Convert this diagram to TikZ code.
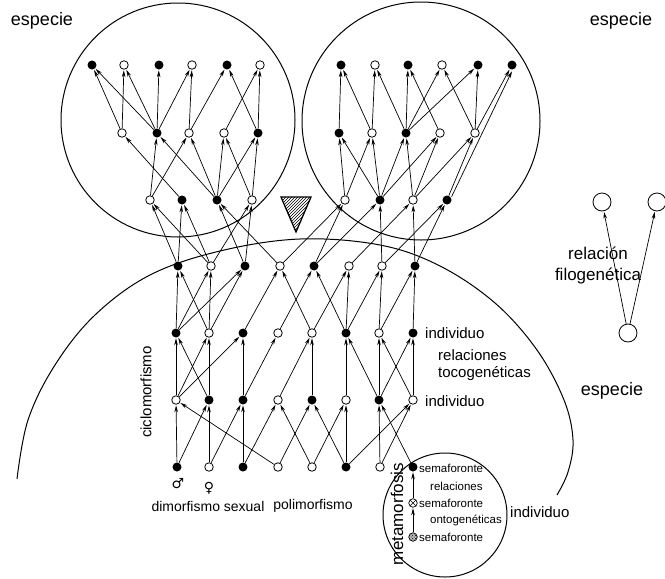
\documentclass[tikz,border=0pt]{standalone}
\usepackage{fontspec}
\setmainfont{Liberation Sans}
\newfontfamily\symfont{DejaVu Sans}
\usetikzlibrary{arrows.meta,patterns,calc}

\begin{document}
\begin{tikzpicture}[x=1pt,y=-1pt,
  full/.style={circle,fill=black,inner sep=0pt,minimum size=9pt},
  hollow/.style={circle,draw=black,fill=white,line width=0.8pt,inner sep=0pt,minimum size=8.5pt},
  bigring/.style={circle,draw=black,fill=white,line width=0.8pt,inner sep=0pt,minimum size=18pt},
  arr/.style={-{Stealth[length=7pt,width=3.6pt]},line width=0.7pt,shorten >=0.6pt},
  lbl/.style={font=\fontsize{15}{17}\selectfont,inner sep=0pt},
  biglbl/.style={font=\fontsize{18}{20}\selectfont,inner sep=0pt},
  small/.style={font=\fontsize{11.5}{13}\selectfont,inner sep=0pt},
  outline/.style={line width=1pt}
]
\useasboundingbox (0,0) rectangle (665,579);

% species boundaries
\draw[outline] (178,120) circle (117);
\draw[outline] (421,121) circle (119);
\draw[outline] plot[smooth, tension=0.6] coordinates {(17,479) (28,420) (55,365) (95,315) (150,275) (220,251) (300,239) (380,245) (440,266) (495,303) (537,350) (564,400) (573,440) (568,472) (557,495)};
% individual (metamorphosis) boundary
\draw[outline] (445,515) circle (62);

% hatched wedge
\draw[line width=1.3pt, pattern=north east lines] (281,197) -- (311,197) -- (296,232) -- cycle;

% generations of individuals
\foreach \n/\x/\s in {a1/177/full,a2/209/hollow,a3/243/full,a4/278/hollow,a5/312/hollow,a6/346/full,a7/380/hollow,a8/413/full}
  \node[\s] (\n) at (\x,467) {};
\foreach \n/\x/\s in {b1/176/hollow,b2/209/full,b3/243/full,b4/278/hollow,b5/312/full,b6/346/hollow,b7/379/full,b8/413/hollow}
  \node[\s] (\n) at (\x,400) {};
\foreach \n/\x/\s in {c1/176/full,c2/209/hollow,c3/243/full,c4/278/hollow,c5/312/hollow,c6/346/full,c7/379/hollow,c8/413/full}
  \node[\s] (\n) at (\x,333) {};
\foreach \n/\x/\s in {d1/178/full,d2/211/hollow,d3/245/full,d4/280/hollow,d5/314/full,d6/349/hollow,d7/382/hollow,d8/415/full}
  \node[\s] (\n) at (\x,266) {};
\foreach \n/\x/\s in {e1/150/hollow,e2/182/full,e3/217/full,e4/252/hollow,f1/345/hollow,f2/380/full,f3/413/hollow,f4/447/full}
  \node[\s] (\n) at (\x,200) {};
\foreach \n/\x/\s in {g1/122/hollow,g2/157/full,g3/189/hollow,g4/224/hollow,g5/258/full,h1/339/full,h2/372/hollow,h3/406/full,h4/440/hollow,h5/475/hollow}
  \node[\s] (\n) at (\x,133) {};
\foreach \n/\x/\s in {i1/92/full,i2/124/hollow,i3/159/full,i4/192/hollow,i5/227/full,i6/260/hollow,j1/341/full,j2/375/hollow,j3/408/full,j4/442/hollow,j5/478/full,j6/512/full}
  \node[\s] (\n) at (\x,65) {};

% tocogenetic relations
\foreach \u/\v in {a1/b1,a1/b2,a2/b2,a2/b3,a3/b3,a3/b4,a4/b1,a4/b5,a5/b4,a5/b6,a6/b5,a6/b6,a6/b8,a7/b7,a7/b8,a8/b7,
  b1/c1,b1/c2,b1/c3,b2/c1,b2/c2,b3/c3,b3/c4,b4/c5,b5/c5,b6/c6,b7/c6,b7/c7,b7/c8,b8/c7,b8/c8,
  c1/d1,c1/d2,c1/d3,c2/d1,c2/d2,c2/d3,c3/d4,c5/d4,c4/d5,c6/d5,c5/d6,c6/d6,c6/d7,c7/d7,c7/d8,c8/d8,
  d1/e1,d2/e1,d1/e2,d2/e2,d3/e3,d4/e3,d2/e4,d3/e4,d4/f1,d5/f1,d5/f2,d7/f2,d6/f3,d8/f3,d7/f4,d8/f4,
  e1/g2,e1/g3,e2/g1,e3/g2,e3/g3,e3/g4,e3/g5,e4/g4,e4/g5,
  g1/i1,g1/i2,g2/i1,g2/i2,g2/i3,g2/i4,g3/i4,g3/i5,g5/i5,g4/i6,g5/i6,
  f1/h1,f2/h1,f1/h2,f2/h2,f2/h3,f3/h3,f2/h4,f3/h4,f3/h5,f4/h5,
  h1/j1,h2/j1,h2/j2,h3/j2,h3/j3,h4/j3,h3/j4,h5/j4,h3/j5,h5/j5,h5/j6}
  \draw[arr] (\u) -- (\v);
\draw[arr] ($(f4)!5pt!(j6)+(2.4,1.2)$) -- ($(j6)!5pt!(f4)+(2.4,1.2)$);

% semaphoronts of one individual
\node[circle,draw,line width=0.7pt,inner sep=0pt,minimum size=8.5pt,
  path picture={\draw[line width=0.6pt] (path picture bounding box.north west) -- (path picture bounding box.south east)
  (path picture bounding box.north east) -- (path picture bounding box.south west);}] (s2) at (413,503) {};
\node[circle,draw,line width=0.7pt,inner sep=0pt,minimum size=8.5pt,fill=gray!55,
  path picture={\fill[pattern=crosshatch dots] (path picture bounding box.south west) rectangle (path picture bounding box.north east);}] (s1) at (413,537) {};
\draw[arr] (s1) -- (s2);
\draw[arr] (s2) -- (a8);

\node[small,anchor=west] (t1) at (419,468) {semaforonte};
\node[small,anchor=west] (t2) at (430,486) {relaciones};
\node[small,anchor=west] (t3) at (419,503) {semaforonte};
\node[small,anchor=west] (t4) at (430,520) {ontogenéticas};
\node[small,anchor=west] (t5) at (419,537) {semaforonte};
\node[lbl,rotate=90,font=\fontsize{17}{19}\selectfont] (meta) at (397,514) {metamorfosis};

% phylogenetic relation
\node[bigring] (p1) at (602,202) {};
\node[bigring] (p2) at (657,202) {};
\node[bigring] (p0) at (628,333) {};
\draw[arr] (p0) -- (p1);
\draw[arr] (p0) -- (p2);

% labels
\node[biglbl] (sp1) at (42,21) {especie};
\node[biglbl] (sp2) at (621,21) {especie};
\node[biglbl] (sp3) at (612,391) {especie};
\node[biglbl,align=center,font=\fontsize{17}{21}\selectfont] (rf) at (598,266) {relación\\filogenética};
\node[lbl,anchor=west] (in1) at (425,333) {individuo};
\node[lbl,anchor=west] (rt1) at (438,355) {relaciones};
\node[lbl,anchor=west] (rt2) at (438,374) {tocogenéticas};
\node[lbl,anchor=west] (in2) at (425,401) {individuo};
\node[lbl,anchor=west] (in3) at (510,512) {individuo};
\node[lbl,rotate=90] (cyc) at (146,392) {ciclomorfismo};
\node[lbl,font=\fontsize{14}{16}\selectfont] (dim) at (208,506) {dimorfismo sexual};
\node[lbl,font=\fontsize{14}{16}\selectfont] (pol) at (313,506) {polimorfismo};
\node[font=\symfont\fontsize{14}{14}\selectfont,inner sep=0pt] (male) at (178,484) {♂};
\node[font=\symfont\fontsize{14}{14}\selectfont,inner sep=0pt] (female) at (209,488) {♀};
\end{tikzpicture}
\end{document}
